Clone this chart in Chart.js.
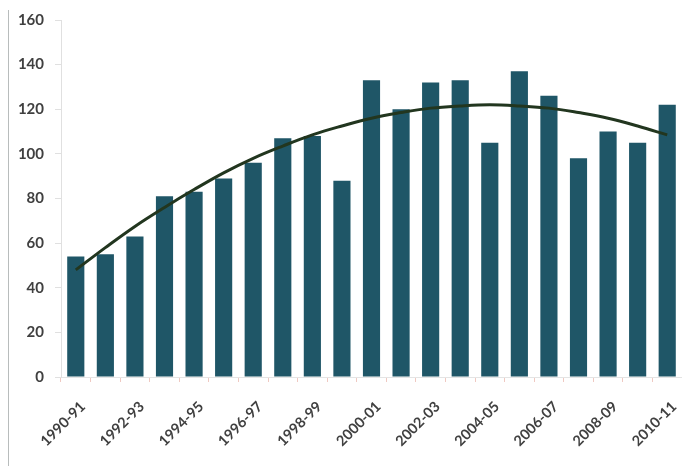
<!DOCTYPE html>
<html>
<head>
<meta charset="utf-8">
<script src="https://cdn.jsdelivr.net/npm/chart.js@4/dist/chart.umd.min.js"></script>
<style>
  html, body { margin: 0; padding: 0; background: #ffffff; }
  #wrap { position: relative; width: 682px; height: 466px; }
  #frame { position: absolute; left: 8px; top: 10px; width: 1px; height: 456px; background: #b8bcbc; }
  canvas { position: absolute; left: 0; top: 0; }
</style>
</head>
<body>
<div id="wrap">
  <div id="frame"></div>
  <canvas id="c" width="682" height="466"></canvas>
</div>
<script>
const categories = ["1990-91","1991-92","1992-93","1993-94","1994-95","1995-96","1996-97","1997-98","1998-99","1999-00","2000-01","2001-02","2002-03","2003-04","2004-05","2005-06","2006-07","2007-08","2008-09","2009-10","2010-11"];
const barValues = [54, 55, 63, 81, 83, 89, 96, 107, 108, 88, 133, 120, 132, 133, 105, 137, 126, 98, 110, 105, 122];
const trendValues = [48, 58, 67.5, 76, 84, 91.5, 98, 103.5, 108.5, 112.5, 116, 118.5, 120.5, 121.5, 122, 121.5, 120.5, 118.5, 116, 112.5, 108.5];
const yTicks = [0, 20, 40, 60, 80, 100, 120, 140, 160];

const yFont = { family: "Lato, 'Open Sans', sans-serif", size: 15, weight: "bold" };
const xFont = { family: "Lato, 'Open Sans', sans-serif", size: 14.5, weight: "bold" };

new Chart(document.getElementById("c"), {
  data: {
    labels: categories,
    datasets: [
      {
        type: "line",
        data: trendValues,
        borderColor: "#22361f",
        borderWidth: 3,
        pointRadius: 0,
        tension: 0.4,
        fill: false,
        order: 0
      },
      {
        type: "bar",
        data: barValues,
        backgroundColor: "#1f5667",
        categoryPercentage: 1,
        barPercentage: 0.58,
        order: 1
      }
    ]
  },
  options: {
    responsive: false,
    animation: false,
    layout: { padding: { left: 0, right: 0, top: 20, bottom: 0 } },
    plugins: { legend: { display: false }, tooltip: { enabled: false }, title: { display: false } },
    scales: {
      x: {
        offset: true,
        grid: { display: true, drawOnChartArea: false, drawTicks: true, tickLength: 5, color: "#efc9c2", offset: true },
        border: { display: true, color: "#e4e4e4" },
        ticks: {
          autoSkip: false,
          maxRotation: 45,
          minRotation: 45,
          color: "#404040",
          font: xFont,
          padding: 16,
          labelOffset: 7,
          callback: function(v, i) { return i % 2 === 0 ? categories[i] : ""; }
        },
        afterFit: function(s) { s.height = 89; s.paddingLeft = 0; s.paddingRight = 0; }
      },
      y: {
        min: 0,
        max: 160,
        afterBuildTicks: function(s) { s.ticks = yTicks.map(v => ({ value: v })); },
        grid: { display: true, drawOnChartArea: false, drawTicks: true, tickLength: 6, color: "#e0e0e0" },
        border: { display: true, color: "#e0e0e0" },
        ticks: { color: "#404040", font: yFont, padding: 11 },
        afterFit: function(s) { s.width = 61; s.paddingTop = 0; s.paddingBottom = 0; }
      }
    }
  }
});
</script>
</body>
</html>
